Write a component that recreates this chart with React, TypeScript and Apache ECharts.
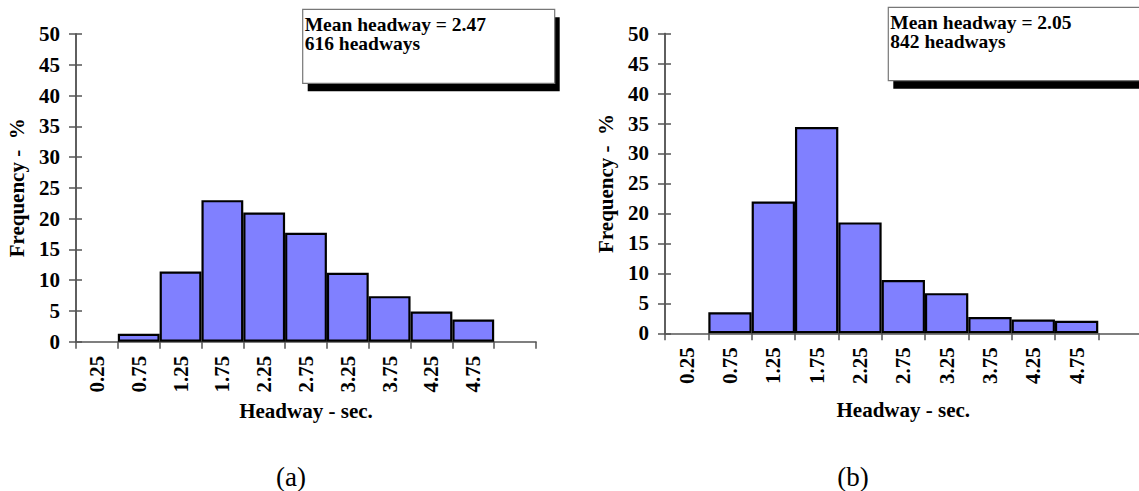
import React, { useEffect, useRef } from "react";
import * as echarts from "echarts";

const categories = ["0.25", "0.75", "1.25", "1.75", "2.25", "2.75", "3.25", "3.75", "4.25", "4.75", ""];
const freqA: (number | null)[] = [null, 1.3, 11.4, 23.0, 21.0, 17.7, 11.2, 7.4, 4.9, 3.6, null];
const freqB: (number | null)[] = [null, 3.5, 22.0, 34.4, 18.5, 8.9, 6.7, 2.7, 2.3, 2.1, null];
const yMin = 0;
const yMax = 50;
const yStep = 5;
const legendA = ["Mean headway = 2.47", "616 headways"];
const legendB = ["Mean headway = 2.05", "842 headways"];
const panelLabels = ["(a)", "(b)"];
const xTitle = "Headway - sec.";
const yTitle = "Frequency -  %";

const FONT = "'Liberation Serif', 'Times New Roman', serif";
const AXIS_COLOR = "#555";

function yAxes(gridIndex: number) {
  const base = {
    type: "value",
    gridIndex,
    position: "left",
    offset: 0,
    min: yMin,
    max: yMax,
    interval: yStep,
    splitLine: { show: false },
  };
  return [
    {
      ...base,
      name: yTitle,
      nameLocation: "middle",
      nameRotate: 90,
      nameGap: 49,
      nameTextStyle: { fontFamily: FONT, fontWeight: "bold", fontSize: 21, color: "#000" },
      axisLine: { show: true, lineStyle: { color: AXIS_COLOR, width: 1.5 } },
      axisTick: { show: true, inside: false, length: 7, lineStyle: { color: AXIS_COLOR, width: 1.5 } },
      axisLabel: { fontFamily: FONT, fontWeight: "bold", fontSize: 21, color: "#000", margin: 16 },
    },
    {
      ...base,
      axisLine: { show: true, lineStyle: { color: AXIS_COLOR, width: 1.5 } },
      axisTick: { show: true, inside: true, length: 6, lineStyle: { color: AXIS_COLOR, width: 1.5 } },
      axisLabel: { show: false },
    },
  ];
}

function xAxis(gridIndex: number, nameGap: number) {
  return {
    type: "category",
    gridIndex,
    data: categories,
    boundaryGap: true,
    name: xTitle,
    nameLocation: "middle",
    nameGap,
    nameTextStyle: { fontFamily: FONT, fontWeight: "bold", fontSize: 21, color: "#000" },
    axisLine: { show: true, lineStyle: { color: AXIS_COLOR, width: 1.5 } },
    axisTick: { show: true, length: 7, interval: 0, lineStyle: { color: AXIS_COLOR, width: 1.5 } },
    axisLabel: {
      interval: 0,
      rotate: 90,
      margin: 14,
      fontFamily: FONT,
      fontWeight: "bold",
      fontSize: 21,
      color: "#000",
    },
    splitLine: { show: false },
  };
}

function barSeries(data: (number | null)[], xi: number, yi: number) {
  return {
    type: "bar",
    xAxisIndex: xi,
    yAxisIndex: yi,
    data,
    barWidth: "100%",
    barCategoryGap: "0%",
    itemStyle: { color: "#8080FF", borderColor: "#000", borderWidth: 2.2 },
    silent: true,
  };
}

function legendBox(x: number, y: number, w: number, h: number, lines: string[], firstCenter: number) {
  return [
    { type: "rect", shape: { x: x + 5, y: y + 8, width: w, height: h }, style: { fill: "#000" }, z: 10 },
    { type: "rect", shape: { x, y, width: w, height: h }, style: { fill: "#fff", stroke: "#777", lineWidth: 1.2 }, z: 11 },
    ...lines.map((line, i) => ({
      type: "text",
      x: x + 2,
      y: firstCenter + i * 19,
      z: 12,
      style: {
        text: line,
        fontFamily: FONT,
        fontWeight: "bold",
        fontSize: 19.5,
        lineHeight: 18.5,
        fill: "#000",
        align: "left",
        verticalAlign: "middle",
      },
    })),
  ];
}

export default function App() {
  const ref = useRef<HTMLDivElement>(null);
  useEffect(() => {
    document.body.style.margin = "0";
    if (!ref.current) return;
    const chart = echarts.init(ref.current, null, { renderer: "svg" });
    chart.setOption({
      animation: false,
      backgroundColor: "#fff",
      grid: [
        { left: 76, top: 34, width: 460, height: 307.7, outerBoundsMode: "none", containLabel: false },
        { left: 665, top: 33.6, width: 476.6, height: 299.7, outerBoundsMode: "none", containLabel: false },
      ],
      xAxis: [xAxis(0, 58), xAxis(1, 66)],
      yAxis: [...yAxes(0), ...yAxes(1)],
      series: [barSeries(freqA, 0, 0), barSeries(freqB, 1, 2)],
      graphic: [
        ...legendBox(302.7, 9.3, 252, 74, legendA, 24.8),
        ...legendBox(888.3, 7.3, 320, 73.4, legendB, 22.8),
        {
          type: "text",
          x: 291,
          y: 477,
          style: { text: panelLabels[0], fontFamily: FONT, fontSize: 27, fill: "#000", align: "center", verticalAlign: "middle" },
        },
        {
          type: "text",
          x: 853,
          y: 477,
          style: { text: panelLabels[1], fontFamily: FONT, fontSize: 27, fill: "#000", align: "center", verticalAlign: "middle" },
        },
      ],
    });
    return () => chart.dispose();
  }, []);
  return <div ref={ref} style={{ width: 1139, height: 491 }} />;
}
